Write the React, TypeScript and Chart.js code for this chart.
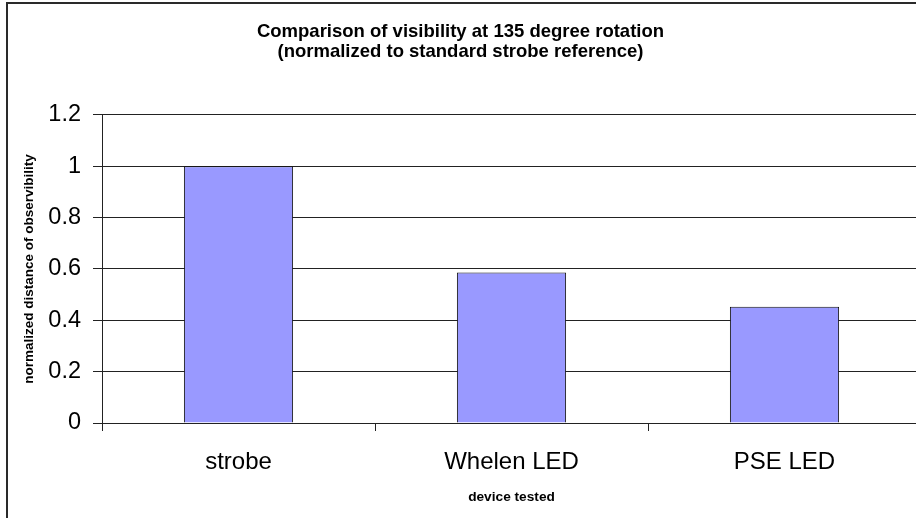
import React, { useEffect, useRef } from "react";
import { Chart, registerables } from "chart.js";

Chart.register(...registerables);

const categories = ["strobe", "Whelen LED", "PSE LED"];
const values = [1.0, 0.586, 0.453];
const yTickValues = [0, 0.2, 0.4, 0.6, 0.8, 1, 1.2];
const yTickLabels = ["0", "0.2", "0.4", "0.6", "0.8", "1", "1.2"];
const titleLines = [
  "Comparison of visibility at 135 degree rotation",
  "(normalized to standard strobe reference)",
];
const yAxisTitle = "normalized distance of observibility";
const xAxisTitle = "device tested";

const FONT = "'Liberation Sans', Arial, Helvetica, sans-serif";

const framePlugin = {
  id: "frame",
  beforeDraw(chart: any) {
    const { ctx, width, height } = chart;
    ctx.save();
    ctx.fillStyle = "#ffffff";
    ctx.fillRect(0, 0, width, height);
    ctx.strokeStyle = "#2a2a2a";
    ctx.lineWidth = 2;
    ctx.beginPath();
    ctx.moveTo(7, height + 5);
    ctx.lineTo(7, 3);
    ctx.lineTo(width + 5, 3);
    ctx.stroke();
    ctx.restore();
  },
};

export default function App() {
  const ref = useRef<HTMLCanvasElement | null>(null);

  useEffect(() => {
    if (!ref.current) return;
    const chart = new Chart(ref.current, {
      type: "bar",
      data: {
        labels: categories,
        datasets: [
          {
            data: values,
            backgroundColor: "#9999FF",
            borderColor: "#111111",
            borderWidth: 1,
            barPercentage: 0.4,
            categoryPercentage: 1.0,
          },
        ],
      },
      plugins: [framePlugin],
      options: {
        responsive: false,
        animation: false,
        devicePixelRatio: 1,
        layout: { padding: 0 },
        plugins: {
          legend: { display: false },
          tooltip: { enabled: false },
          title: {
            display: true,
            text: titleLines,
            color: "#000000",
            font: { family: FONT, size: 18.5, weight: "bold", lineHeight: 1.05 },
            padding: { top: 22.6, bottom: 53.5 },
          },
        },
        scales: {
          x: {
            afterFit(scale: any) {
              scale.height = 95;
            },
            grid: {
              display: true,
              offset: true,
              drawOnChartArea: false,
              drawTicks: true,
              tickLength: 8,
              color: "#222222",
              lineWidth: 1,
            },
            border: { display: true, color: "#222222", width: 1 },
            ticks: {
              color: "#000000",
              font: { family: FONT, size: 24 },
              padding: 17,
              maxRotation: 0,
            },
            title: {
              display: true,
              text: xAxisTitle,
              color: "#000000",
              font: { family: FONT, size: 13.7, weight: "bold", lineHeight: 1.2 },
              padding: { top: 0, bottom: 13 },
            },
          },
          y: {
            min: 0,
            max: 1.2,
            afterFit(scale: any) {
              scale.width = 102;
            },
            afterBuildTicks(scale: any) {
              scale.ticks = yTickValues.map((v) => ({ value: v }));
            },
            grid: {
              display: true,
              drawTicks: true,
              tickLength: 9,
              color: "#222222",
              lineWidth: 1,
            },
            border: { display: true, color: "#222222", width: 1 },
            ticks: {
              color: "#000000",
              font: { family: FONT, size: 23.5 },
              padding: 12,
              callback: (_v: any, i: number) => yTickLabels[i],
            },
            title: {
              display: true,
              text: yAxisTitle,
              color: "#000000",
              font: { family: FONT, size: 13.5, weight: "bold", lineHeight: 1.2 },
              padding: { top: 21, bottom: 0 },
            },
          },
        },
      },
    });
    return () => chart.destroy();
  }, []);

  return (
    <div
      style={{
        position: "fixed",
        left: 0,
        top: 0,
        width: 916,
        height: 518,
        overflow: "hidden",
        background: "#ffffff",
      }}
    >
      <canvas ref={ref} width={921} height={518} style={{ display: "block", width: 921, height: 518 }} />
    </div>
  );
}
